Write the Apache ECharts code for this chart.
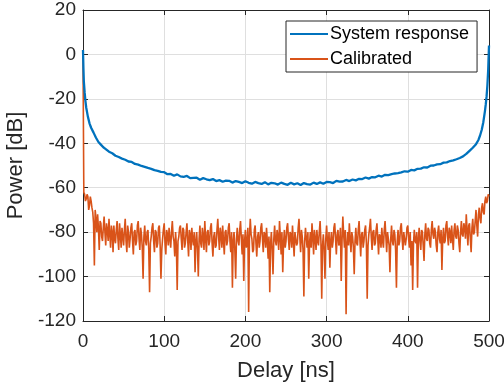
<!DOCTYPE html>
<html>
<head>
<meta charset="utf-8">
<title>System response vs calibrated</title>
<script src="https://cdn.jsdelivr.net/npm/echarts@6/dist/echarts.min.js"></script>
<style>
  html, body { margin: 0; padding: 0; background: #fff; }
  #chart { width: 504px; height: 388px; }
</style>
</head>
<body>
<div id="chart"></div>
<script>
// 坐标轴刻度
const xTicks = [0, 100, 200, 300, 400, 500]
const yTicks = [-120, -100, -80, -60, -40, -20, 0, 20]

// System response (蓝线) - 延迟 [ns] / 功率 [dB]
const sysDelay = [0, 0.5, 1, 2, 3, 4, 6, 8, 10, 13, 16, 19, 22, 25, 28, 32, 36, 40, 44, 48,
  52, 56, 60, 64, 68, 72, 76, 80, 84, 88, 92, 96, 100, 104, 108, 112, 116, 120, 124, 128,
  132, 136, 140, 144, 148, 152, 156, 160, 164, 168, 172, 176, 180, 184, 188, 192, 196, 200,
  204, 208, 212, 216, 220, 224, 228, 232, 236, 240, 244, 248, 252, 256, 260, 264, 268, 272,
  276, 280, 284, 288, 292, 296, 300, 304, 308, 312, 316, 320, 324, 328, 332, 336, 340, 344,
  348, 352, 356, 360, 364, 368, 372, 376, 380, 384, 388, 392, 396, 400, 404, 408, 412, 416,
  420, 424, 428, 432, 436, 440, 444, 448, 452, 456, 460, 464, 468, 472, 476, 480, 484, 487,
  489, 491, 493, 494, 495, 496, 497, 498, 499, 500]
const sysPower = [2, -6, -12, -17, -21, -24, -28, -31, -33, -35.2, -37.5, -39.4, -40.6, -41.8, -42.6, -43.8, -44.5, -45.6, -46.2, -46.9,
  -47.4, -48.2, -48.4, -49.3, -49.6, -50.2, -50.6, -51.1, -51.5, -52.1, -52.4, -52.9, -53.0, -53.9, -53.8, -54.6, -54.0, -54.9, -55.1, -54.7,
  -55.7, -55.6, -55.5, -56.4, -55.7, -56.2, -56.6, -56.1, -57.0, -56.6, -57.3, -56.8, -56.9, -57.7, -57.0, -57.4, -57.9, -57.1,
  -57.8, -58.2, -57.4, -57.9, -58.3, -57.5, -58.5, -57.8, -58.0, -58.6, -57.7, -58.3, -58.7, -57.8, -58.5, -58.0, -58.8, -57.9,
  -58.4, -58.6, -57.7, -58.3, -57.6, -58.2, -57.4, -57.5, -57.9, -56.9, -57.3, -57.2, -56.5, -57.0, -56.3, -56.7, -56.0, -56.1,
  -55.4, -55.9, -55.2, -55.3, -54.6, -55.0, -54.2, -54.3, -53.9, -53.6, -53.4, -53.1, -52.6, -52.8, -52.0, -52.2, -51.5, -51.4,
  -50.8, -50.9, -50.1, -50.0, -49.5, -49.4, -48.7, -48.6, -48.0, -47.7, -47.2, -46.6, -45.9, -44.8, -43.4, -42.0, -40.4, -38.5,
  -36.5, -34, -30.5, -28, -25.5, -22.5, -19, -14, -7, 4]

// Calibrated (橙线) - 延迟 [ns], 每行 20 个采样
const calDelay = [
  0, 1, 2, 3, 4, 5, 6, 7, 8, 9, 10, 11, 12, 13, 14, 15, 16, 17, 18, 19,
  20, 21, 22, 23, 24, 25, 26, 27, 28, 29, 30, 31, 32, 33, 34, 35, 36, 37, 38, 39,
  40, 41, 42, 43, 44, 45, 46, 47, 48, 49, 50, 51, 52, 53, 54, 55, 56, 57, 58, 59,
  60, 61, 62, 63, 64, 65, 66, 67, 68, 69, 70, 71, 72, 73, 74, 75, 76, 77, 78, 79,
  80, 81, 82, 83, 84, 85, 86, 87, 88, 89, 90, 91, 92, 93, 94, 95, 96, 97, 98, 99,
  100, 101, 102, 103, 104, 105, 106, 107, 108, 109, 110, 111, 112, 113, 114, 115, 116, 117, 118, 119,
  120, 121, 122, 123, 124, 125, 126, 127, 128, 129, 130, 131, 132, 133, 134, 135, 136, 137, 138, 139,
  140, 141, 142, 143, 144, 145, 146, 147, 148, 149, 150, 151, 152, 153, 154, 155, 156, 157, 158, 159,
  160, 161, 162, 163, 164, 165, 166, 167, 168, 169, 170, 171, 172, 173, 174, 175, 176, 177, 178, 179,
  180, 181, 182, 183, 184, 185, 186, 187, 188, 189, 190, 191, 192, 193, 194, 195, 196, 197, 198, 199,
  200, 201, 202, 203, 204, 205, 206, 207, 208, 209, 210, 211, 212, 213, 214, 215, 216, 217, 218, 219,
  220, 221, 222, 223, 224, 225, 226, 227, 228, 229, 230, 231, 232, 233, 234, 235, 236, 237, 238, 239,
  240, 241, 242, 243, 244, 245, 246, 247, 248, 249, 250, 251, 252, 253, 254, 255, 256, 257, 258, 259,
  260, 261, 262, 263, 264, 265, 266, 267, 268, 269, 270, 271, 272, 273, 274, 275, 276, 277, 278, 279,
  280, 281, 282, 283, 284, 285, 286, 287, 288, 289, 290, 291, 292, 293, 294, 295, 296, 297, 298, 299,
  300, 301, 302, 303, 304, 305, 306, 307, 308, 309, 310, 311, 312, 313, 314, 315, 316, 317, 318, 319,
  320, 321, 322, 323, 324, 325, 326, 327, 328, 329, 330, 331, 332, 333, 334, 335, 336, 337, 338, 339,
  340, 341, 342, 343, 344, 345, 346, 347, 348, 349, 350, 351, 352, 353, 354, 355, 356, 357, 358, 359,
  360, 361, 362, 363, 364, 365, 366, 367, 368, 369, 370, 371, 372, 373, 374, 375, 376, 377, 378, 379,
  380, 381, 382, 383, 384, 385, 386, 387, 388, 389, 390, 391, 392, 393, 394, 395, 396, 397, 398, 399,
  400, 401, 402, 403, 404, 405, 406, 407, 408, 409, 410, 411, 412, 413, 414, 415, 416, 417, 418, 419,
  420, 421, 422, 423, 424, 425, 426, 427, 428, 429, 430, 431, 432, 433, 434, 435, 436, 437, 438, 439,
  440, 441, 442, 443, 444, 445, 446, 447, 448, 449, 450, 451, 452, 453, 454, 455, 456, 457, 458, 459,
  460, 461, 462, 463, 464, 465, 466, 467, 468, 469, 470, 471, 472, 473, 474, 475, 476, 477, 478, 479,
  480, 481, 482, 483, 484, 485, 486, 487, 488, 489, 490, 491, 492, 493, 494, 495, 496, 497, 498, 499,
  500]
// Calibrated (橙线) - 功率 [dB]
const calPower = [
  0, -62, -63, -66, -65, -63, -64, -70, -68, -64, -66, -69, -71, -76, -95, -70, -74, -80, -72, -78,
  -88, -75, -76, -82, -84, -78, -73, -80, -86, -76, -79, -84, -74, -81, -87, -77, -80, -89, -77, -83,
  -85, -79, -75, -83, -88, -76, -81, -87, -78, -82, -86, -79, -74, -84, -89, -77, -80, -87, -83, -78,
  -76, -84, -90, -80, -79, -86, -84, -77, -75, -83, -88, -78, -81, -87, -101, -82, -77, -84, -86, -80,
  -79, -88, -107, -85, -82, -78, -76, -84, -89, -79, -80, -87, -85, -78, -77, -86, -101, -88, -83, -79,
  -76, -85, -90, -79, -81, -86, -78, -83, -87, -80, -75, -82, -84, -91, -80, -86, -106, -84, -82, -78,
  -77, -83, -88, -78, -79, -87, -85, -80, -76, -84, -91, -79, -81, -88, -78, -83, -86, -80, -98, -84,
  -80, -88, -100, -83, -77, -85, -87, -78, -82, -88, -75, -83, -89, -80, -79, -86, -84, -78, -76, -85,
  -91, -82, -80, -87, -86, -79, -74, -82, -88, -78, -81, -87, -77, -84, -90, -80, -79, -86, -84, -78,
  -76, -84, -89, -80, -105, -84, -80, -88, -101, -83, -78, -84, -86, -79, -75, -83, -90, -81, -102, -84,
  -79, -87, -85, -78, -116, -82, -74, -81, -83, -89, -88, -79, -77, -85, -91, -82, -80, -87, -84, -78,
  -76, -83, -89, -80, -81, -87, -78, -84, -92, -82, -107, -85, -80, -88, -99, -83, -77, -84, -86, -79,
  -82, -88, -75, -82, -90, -80, -98, -85, -79, -87, -84, -78, -76, -83, -88, -80, -81, -87, -77, -84,
  -91, -80, -80, -86, -85, -78, -74, -82, -89, -79, -82, -88, -109, -84, -78, -83, -87, -80, -101, -85,
  -80, -87, -76, -82, -90, -79, -83, -88, -79, -84, -86, -80, -75, -84, -110, -86, -81, -88, -101, -83,
  -77, -84, -88, -80, -96, -84, -80, -87, -84, -78, -76, -83, -90, -81, -79, -86, -85, -78, -102, -84,
  -73, -81, -87, -79, -117, -85, -80, -86, -76, -83, -89, -80, -82, -87, -99, -84, -78, -85, -86, -79,
  -75, -83, -91, -81, -80, -87, -84, -79, -77, -85, -110, -86, -81, -78, -74, -82, -88, -80, -79, -86,
  -85, -79, -76, -83, -90, -81, -82, -87, -78, -84, -87, -79, -75, -82, -89, -80, -80, -86, -98, -83,
  -77, -84, -86, -79, -81, -88, -105, -84, -79, -86, -84, -78, -76, -83, -88, -80, -80, -86, -83, -78,
  -77, -83, -87, -80, -95, -84, -106, -85, -79, -84, -85, -80, -105, -83, -78, -84, -88, -79, -80, -86,
  -93, -81, -76, -83, -84, -78, -79, -85, -87, -79, -75, -81, -83, -78, -80, -86, -89, -80, -77, -83,
  -85, -79, -97, -83, -78, -85, -84, -77, -75, -82, -86, -78, -80, -85, -77, -83, -88, -79, -76, -82,
  -83, -77, -79, -85, -89, -80, -75, -81, -82, -76, -78, -83, -72, -79, -86, -77, -76, -83, -89, -78,
  -74, -81, -80, -75, -70, -77, -82, -72, -69, -74, -76, -69, -67, -71, -72, -66, -64, -67, -66, -63,
  -64]

const seriesNames = ['System response', 'Calibrated']
const seriesColors = ['#0072BD', '#D95319']

const FONT = '"Liberation Sans", Arial, Helvetica, sans-serif'
const AXIS_COLOR = '#262626'
const GRID_COLOR = '#dfdfdf'

function zip(xs, ys) {
  return xs.map((x, i) => [x, ys[i]])
}

const chart = echarts.init(document.getElementById('chart'), null, { renderer: 'canvas' })

// 公共坐标轴样式 (MATLAB 风格: 刻度朝内, 带框)
const tickStyle = { show: true, inside: true, length: 5, lineStyle: { color: AXIS_COLOR } }
const lineStyle = { show: true, onZero: false, lineStyle: { color: AXIS_COLOR, width: 1 } }

const option = {
  animation: false,
  backgroundColor: '#fff',
  grid: { left: 83, top: 10, right: 15, bottom: 67, containLabel: false, outerBoundsMode: 'none' },
  legend: {
    data: seriesNames.map(name => ({ name, icon: 'rect' })),
    orient: 'vertical',
    left: 286,
    top: 21,
    padding: [3, 8, 3, 4],
    itemGap: 5,
    itemWidth: 38,
    itemHeight: 2,
    backgroundColor: '#fff',
    borderColor: AXIS_COLOR,
    borderWidth: 1,
    borderRadius: 0,
    textStyle: { fontFamily: FONT, fontSize: 18, lineHeight: 20, color: '#000', padding: [0, 0, 0, -3] }
  },
  xAxis: [
    {
      type: 'value',
      min: 0,
      max: 500,
      interval: 100,
      name: 'Delay [ns]',
      nameLocation: 'middle',
      nameGap: 39,
      nameTextStyle: { fontFamily: FONT, fontSize: 22, color: AXIS_COLOR },
      axisLine: lineStyle,
      axisTick: tickStyle,
      axisLabel: { fontFamily: FONT, fontSize: 19, color: AXIS_COLOR, margin: 11 },
      splitLine: { show: true, lineStyle: { color: GRID_COLOR, width: 1 } }
    },
    {
      // 顶部框线
      type: 'value',
      position: 'top',
      min: 0,
      max: 500,
      interval: 100,
      axisLine: lineStyle,
      axisTick: tickStyle,
      axisLabel: { show: false },
      splitLine: { show: false }
    }
  ],
  yAxis: [
    {
      type: 'value',
      min: -120,
      max: 20,
      interval: 20,
      name: 'Power [dB]',
      nameLocation: 'middle',
      nameGap: 55,
      nameTextStyle: { fontFamily: FONT, fontSize: 22, color: AXIS_COLOR },
      axisLine: lineStyle,
      axisTick: tickStyle,
      axisLabel: { fontFamily: FONT, fontSize: 19, color: AXIS_COLOR, margin: 7 },
      splitLine: { show: true, lineStyle: { color: GRID_COLOR, width: 1 } }
    },
    {
      // 右侧框线
      type: 'value',
      position: 'right',
      min: -120,
      max: 20,
      interval: 20,
      axisLine: lineStyle,
      axisTick: tickStyle,
      axisLabel: { show: false },
      splitLine: { show: false }
    }
  ],
  series: [
    {
      name: seriesNames[0],
      type: 'line',
      data: zip(sysDelay, sysPower),
      showSymbol: false,
      symbol: 'none',
      z: 3,
      lineStyle: { color: seriesColors[0], width: 2.3 },
      itemStyle: { color: seriesColors[0] }
    },
    {
      name: seriesNames[1],
      type: 'line',
      data: zip(calDelay, calPower),
      showSymbol: false,
      symbol: 'none',
      z: 2,
      lineStyle: { color: seriesColors[1], width: 1.6 },
      itemStyle: { color: seriesColors[1] }
    }
  ]
}

chart.setOption(option)
</script>
</body>
</html>
